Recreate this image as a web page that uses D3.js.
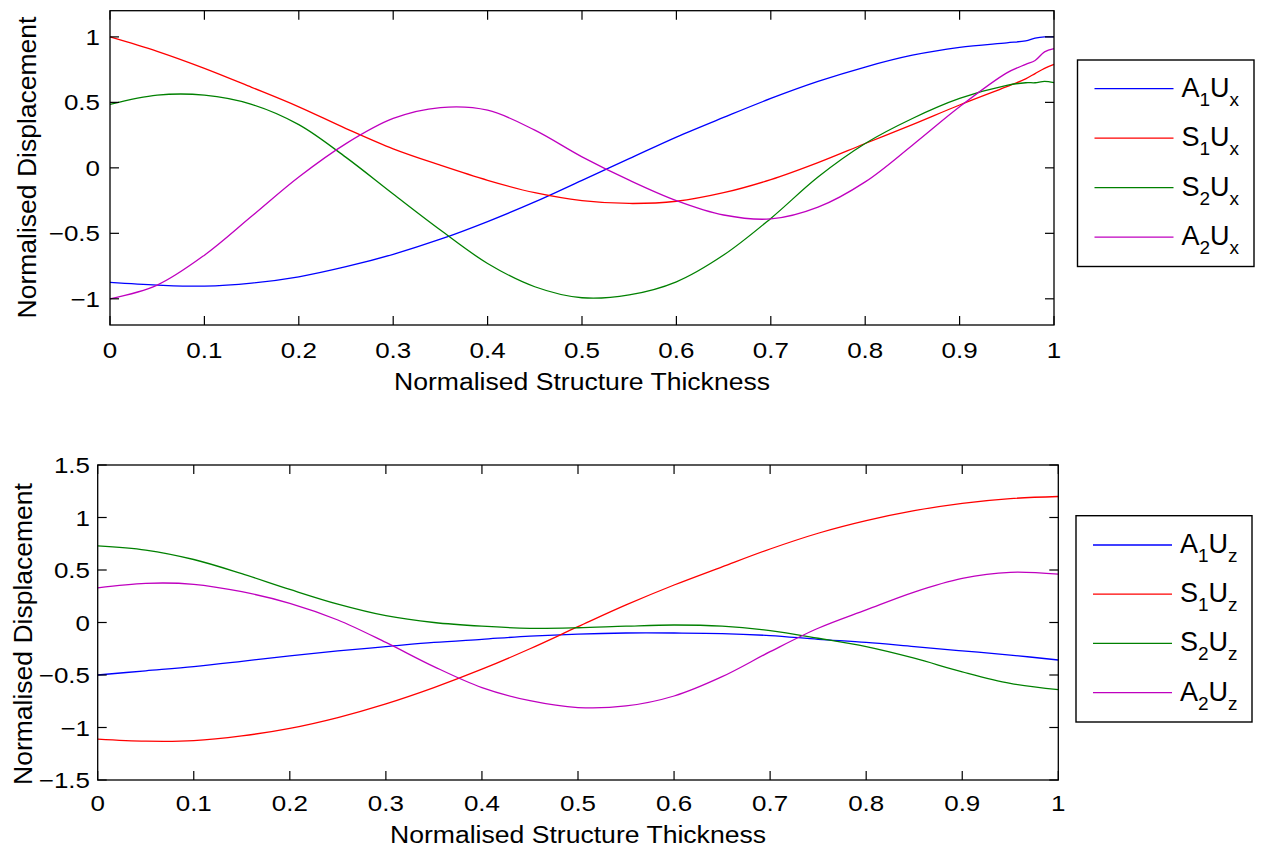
<!DOCTYPE html>
<html>
<head>
<meta charset="utf-8">
<script src="https://cdn.jsdelivr.net/npm/d3@7"></script>
<style>
html,body{margin:0;padding:0;background:#fff;}
svg{display:block;}
text{font-family:"Liberation Sans",Arial,Helvetica,sans-serif;fill:#000;}
</style>
</head>
<body>
<svg id="chart" width="1261" height="851"></svg>
<script>
// ---------- data ----------
const thicknessTop = [0,0.05,0.1,0.15,0.2,0.25,0.3,0.35,0.4,0.45,0.5,0.55,0.6,0.65,0.7,0.75,0.8,0.85,0.9,0.95,0.97,0.98,0.99,1.0];
const A1Ux = [-0.875,-0.895,-0.903,-0.88,-0.832,-0.755,-0.66,-0.545,-0.41,-0.26,-0.095,0.07,0.235,0.385,0.53,0.66,0.77,0.86,0.92,0.955,0.97,0.99,1.0,1.0];
const S1Ux = [1.0,0.89,0.76,0.615,0.466,0.3,0.145,0.02,-0.095,-0.19,-0.25,-0.272,-0.255,-0.19,-0.09,0.04,0.186,0.33,0.48,0.62,0.68,0.72,0.76,0.79];
const S2Ux = [0.484,0.555,0.555,0.485,0.33,0.08,-0.2,-0.475,-0.73,-0.908,-0.992,-0.97,-0.87,-0.666,-0.386,-0.07,0.186,0.377,0.53,0.63,0.65,0.65,0.66,0.65];
const A2Ux = [-1.0,-0.895,-0.667,-0.37,-0.07,0.185,0.377,0.46,0.44,0.288,0.084,-0.094,-0.25,-0.36,-0.39,-0.30,-0.107,0.173,0.466,0.725,0.79,0.82,0.886,0.91];

const thicknessBottom = [0,0.05,0.1,0.15,0.2,0.25,0.3,0.35,0.4,0.45,0.5,0.55,0.6,0.65,0.7,0.75,0.8,0.85,0.9,0.95,1.0];
const A1Uz = [-0.5,-0.46,-0.42,-0.37,-0.317,-0.27,-0.23,-0.19,-0.16,-0.13,-0.11,-0.10,-0.10,-0.105,-0.125,-0.16,-0.19,-0.23,-0.27,-0.31,-0.357];
const S1Uz = [-1.11,-1.13,-1.125,-1.08,-1.008,-0.905,-0.775,-0.62,-0.445,-0.25,-0.04,0.167,0.357,0.53,0.70,0.85,0.97,1.065,1.135,1.18,1.2];
const S2Uz = [0.73,0.69,0.60,0.465,0.315,0.175,0.065,0.0,-0.035,-0.055,-0.05,-0.035,-0.024,-0.035,-0.078,-0.15,-0.23,-0.34,-0.47,-0.58,-0.64];
const A2Uz = [0.33,0.373,0.364,0.293,0.183,0.024,-0.19,-0.42,-0.62,-0.745,-0.81,-0.795,-0.70,-0.516,-0.278,-0.055,0.12,0.29,0.42,0.478,0.46];

const xTicks = [0,0.1,0.2,0.3,0.4,0.5,0.6,0.7,0.8,0.9,1];
const yTicksTop = [-1,-0.5,0,0.5,1];
const yTicksBottom = [-1.5,-1,-0.5,0,0.5,1,1.5];

const namesTop = [["A","1","U","x"],["S","1","U","x"],["S","2","U","x"],["A","2","U","x"]];
const namesBottom = [["A","1","U","z"],["S","1","U","z"],["S","2","U","z"],["A","2","U","z"]];
const colors = ["#0000ff","#ff0000","#008000","#bf00bf"];

const xLabel = "Normalised Structure Thickness";
const yLabel = "Normalised Displacement";

// ---------- drawing ----------
const svg = d3.select("#chart");
const fmt = v => (v < 0 ? "\u2212" : "") + String(Math.abs(v));

function txt(g, x, y, s, size, anchor, sx, rot) {
  return g.append("text")
    .attr("transform", `translate(${x},${y})` + (rot ? ` rotate(${rot})` : "") + ` scale(${sx},1)`)
    .attr("text-anchor", anchor)
    .style("font-size", size + "px")
    .text(s);
}

function panel(cfg) {
  const x = d3.scaleLinear().domain([0,1]).range([cfg.left, cfg.right]);
  const y = d3.scaleLinear().domain(cfg.ydom).range([cfg.bottom, cfg.top]);
  const g = svg.append("g");

  const line = d3.line().x(d => x(d[0])).y(d => y(d[1])).curve(d3.curveCatmullRom.alpha(0.5));
  cfg.series.forEach((s, i) => {
    g.append("path")
      .attr("d", line(cfg.t.map((tv, k) => [tv, s[k]])))
      .attr("fill", "none")
      .attr("stroke", colors[i])
      .attr("stroke-width", 1.3);
  });

  g.append("rect")
    .attr("x", cfg.left).attr("y", cfg.top)
    .attr("width", cfg.right - cfg.left).attr("height", cfg.bottom - cfg.top)
    .attr("fill", "none").attr("stroke", "#000").attr("stroke-width", 1.3);

  const tl = 9;
  xTicks.forEach(v => {
    const px = x(v);
    g.append("line").attr("x1", px).attr("x2", px).attr("y1", cfg.bottom).attr("y2", cfg.bottom - tl).attr("stroke", "#000").attr("stroke-width", 1.2);
    g.append("line").attr("x1", px).attr("x2", px).attr("y1", cfg.top).attr("y2", cfg.top + tl).attr("stroke", "#000").attr("stroke-width", 1.2);
    txt(g, px, cfg.xTickBase, fmt(v), 22, "middle", 1.18);
  });
  cfg.yTicks.forEach(v => {
    const py = y(v);
    g.append("line").attr("x1", cfg.left).attr("x2", cfg.left + tl).attr("y1", py).attr("y2", py).attr("stroke", "#000").attr("stroke-width", 1.2);
    g.append("line").attr("x1", cfg.right).attr("x2", cfg.right - tl).attr("y1", py).attr("y2", py).attr("stroke", "#000").attr("stroke-width", 1.2);
    txt(g, cfg.yTickRight, py + 8, fmt(v), 22, "end", 1.18);
  });

  txt(g, (cfg.left + cfg.right) / 2, cfg.xTitleBase, xLabel, 24.5, "middle", 1.085);
  txt(g, cfg.yTitleX, cfg.yTitleY, yLabel, 25, "middle", 1.06, -90);

  const L = cfg.legend;
  g.append("rect").attr("x", L.x).attr("y", L.y).attr("width", L.w).attr("height", L.h)
    .attr("fill", "#fff").attr("stroke", "#000").attr("stroke-width", 1.4);
  cfg.names.forEach((n, i) => {
    const ry = L.row0 + i * L.step;
    g.append("line").attr("x1", L.x + 17).attr("x2", L.x + 96).attr("y1", ry).attr("y2", ry)
      .attr("stroke", colors[i]).attr("stroke-width", 1.3);
    const t = g.append("text")
      .attr("x", L.x + 104).attr("y", ry + 8)
      .style("font-size", "27px");
    t.append("tspan").text(n[0]);
    t.append("tspan").attr("dy", 9).style("font-size", "19px").text(n[1]);
    t.append("tspan").attr("dy", -9).text(n[2]);
    t.append("tspan").attr("dy", 9).style("font-size", "19px").text(n[3]);
  });
}

panel({
  left: 110, right: 1054, top: 10.7, bottom: 325, ydom: [-1.2, 1.2],
  t: thicknessTop, series: [A1Ux, S1Ux, S2Ux, A2Ux], yTicks: yTicksTop,
  xTickBase: 358, yTickRight: 100, xTitleBase: 390, yTitleX: 36, yTitleY: 167.5,
  names: namesTop,
  legend: {x: 1077.5, y: 60, w: 176.5, h: 206.5, row0: 88.7, step: 49.5}
});

panel({
  left: 97.7, right: 1058.3, top: 465, bottom: 780, ydom: [-1.5, 1.5],
  t: thicknessBottom, series: [A1Uz, S1Uz, S2Uz, A2Uz], yTicks: yTicksBottom,
  xTickBase: 811, yTickRight: 90, xTitleBase: 843, yTitleX: 31.5, yTitleY: 634,
  names: namesBottom,
  legend: {x: 1076, y: 515.7, w: 176, h: 206.3, row0: 545, step: 49.2}
});
</script>
</body>
</html>
